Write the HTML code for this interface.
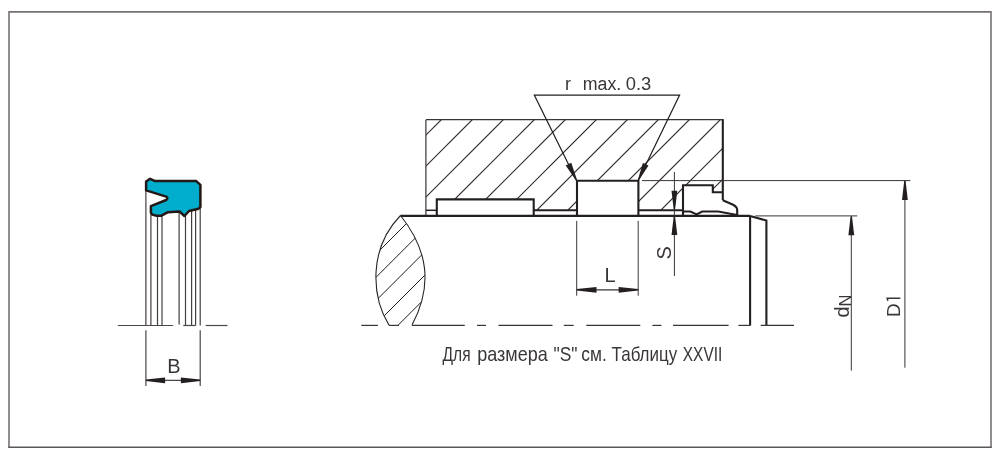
<!DOCTYPE html>
<html><head><meta charset="utf-8">
<style>
html,body{margin:0;padding:0;background:#fff;width:1000px;height:457px;overflow:hidden}
svg{display:block;will-change:transform}
text{font-family:"Liberation Sans",sans-serif;fill:#3a3536}
</style></head>
<body>
<svg width="1000" height="457" viewBox="0 0 1000 457">
<defs>
<clipPath id="hc">
<path d="M426,119.6 H722.8 V192.3 H712.8 V185.3 H683 V210.3 H638.4 V180.2 H577 V210.3 H533.7 V199.2 H436.8 V210.3 H426 Z"/>
</clipPath>
<clipPath id="lc">
<path d="M400.5,215.5 C368,249.1 371.6,296.9 389,325.1 H412 C433.1,285.4 428.1,250.1 400.5,215.5 Z"/>
</clipPath>
</defs>
<!-- frame -->
<g fill="none" stroke-width="1.6">
<path d="M9,447.3 V11.9 H991 V447.3" stroke="#777273"/>
<line x1="8.2" y1="447.3" x2="991.8" y2="447.3" stroke="#5c5757"/>
</g>

<!-- ===== left seal ===== -->
<g stroke="#433e3f" stroke-width="1.2" fill="none">
<line x1="145.9" y1="190" x2="145.9" y2="325.5"/>
<line x1="150.9" y1="212" x2="150.9" y2="325.5"/>
<line x1="157.5" y1="215" x2="157.5" y2="325.5"/>
<line x1="162" y1="215" x2="162" y2="325.5"/>
<line x1="179.1" y1="211" x2="179.1" y2="324.5"/>
<line x1="185.5" y1="215" x2="185.5" y2="325.5"/>
<line x1="191.6" y1="210" x2="191.6" y2="325.5"/>
<line x1="195.6" y1="209" x2="195.6" y2="325.5"/>
<line x1="200.2" y1="207" x2="200.2" y2="325.5"/>
</g>
<g stroke="#4a4546" stroke-width="1.2" fill="none">
<line x1="117.8" y1="325.5" x2="173.2" y2="325.5"/>
<line x1="183.3" y1="325.5" x2="195.6" y2="325.5"/>
<line x1="205.6" y1="325.5" x2="227.5" y2="325.5"/>
<line x1="145.9" y1="330.2" x2="145.9" y2="386"/>
<line x1="200.2" y1="330.2" x2="200.2" y2="386"/>
<line x1="150" y1="380.3" x2="196" y2="380.3" stroke-width="1.3"/>
</g>
<g fill="#231f20">
<path d="M145.90,381.00 L165.10,383.20 L165.10,377.40 L145.90,379.60 Z"/>
<path d="M200.20,379.60 L180.90,377.40 L180.90,383.20 L200.20,381.00 Z"/>
</g>
<path d="M146.1,181.5 L150.1,178.8 L154.6,180.9 L196,180.9 L200.4,184.9 L200.4,207 L198.6,208.7 L189,211 L184.4,216 L179.4,211.4 L168,212.2 L161.4,215.7 L156.6,215.7 L152.2,214.6 L150.9,212.5 L150.9,206.1 L166.2,200 Q168.5,198.2 166.2,196.6 L146.1,190.4 Z" fill="#00adcc" stroke="#231815" stroke-width="2.5" stroke-linejoin="round"/>
<text x="174" y="373.1" font-size="20" text-anchor="middle">B</text>

<!-- ===== main drawing ===== -->
<!-- housing hatch -->
<g clip-path="url(#hc)" stroke="#2e2a2b" stroke-width="1.15" fill="none">
<line x1="461.0" y1="100" x2="331.0" y2="230"/>
<line x1="492.0" y1="100" x2="362.0" y2="230"/>
<line x1="523.0" y1="100" x2="393.0" y2="230"/>
<line x1="554.0" y1="100" x2="424.0" y2="230"/>
<line x1="585.0" y1="100" x2="455.0" y2="230"/>
<line x1="616.0" y1="100" x2="486.0" y2="230"/>
<line x1="647.0" y1="100" x2="517.0" y2="230"/>
<line x1="678.0" y1="100" x2="548.0" y2="230"/>
<line x1="709.0" y1="100" x2="579.0" y2="230"/>
<line x1="740.0" y1="100" x2="610.0" y2="230"/>
<line x1="771.0" y1="100" x2="641.0" y2="230"/>
<line x1="802.0" y1="100" x2="672.0" y2="230"/>
<line x1="833.0" y1="100" x2="703.0" y2="230"/>
<line x1="864.0" y1="100" x2="734.0" y2="230"/>
</g>
<!-- housing outline -->
<g stroke="#3a3435" stroke-width="1.2" fill="none">
<line x1="426" y1="119.7" x2="722.8" y2="119.7"/>
<line x1="425.9" y1="119.7" x2="425.9" y2="215.7"/>
</g>
<g stroke="#231f20" stroke-width="2.1" fill="none" stroke-linejoin="miter">
<line x1="722.8" y1="119.2" x2="722.8" y2="200.2"/>
<line x1="425.9" y1="210.3" x2="436.8" y2="210.3" stroke-width="1.5"/>
<line x1="533.7" y1="210.3" x2="577" y2="210.3"/>
<line x1="638.4" y1="210.3" x2="683" y2="210.3"/>
<!-- pad -->
<path d="M436.8,215.9 V199.4 H533.7 V215.9"/>
<!-- groove -->
<path d="M577,215.9 V180.7 H638.4 V215.9"/>
<!-- wiper seal -->
<path d="M683,215.4 V185.3 H712.8 V192.3 H722.8"/>
<path d="M722.8,200.2 L733.1,204.8 Q737.2,207 737.2,210 V215.4"/>
<path d="M683,211.5 H690.4 L696.6,214.4 L702.2,211.5 H718.2 L737.2,215"/>
<!-- shaft -->
<line x1="400.5" y1="215.9" x2="750.1" y2="215.9"/>
<line x1="750.1" y1="215.9" x2="750.1" y2="325.6"/>
<path d="M750.1,215.9 L766.4,220.5 V325.6"/>
</g>
<!-- lens -->
<g clip-path="url(#lc)" stroke="#231f20" stroke-width="1" fill="none">
<line x1="430.0" y1="200" x2="290.0" y2="340"/>
<line x1="453.3" y1="200" x2="313.3" y2="340"/>
<line x1="476.6" y1="200" x2="336.6" y2="340"/>
<line x1="500.0" y1="200" x2="360.0" y2="340"/>
<line x1="523.3" y1="200" x2="383.3" y2="340"/>
</g>
<path d="M400.5,215.5 C368,249.1 371.6,296.9 389,325.1 M400.5,215.5 C428.1,250.1 433.1,285.4 412,325.1" fill="none" stroke="#2b2526" stroke-width="1.1"/>
<!-- center line -->
<g stroke="#3a3435" stroke-width="1.2" fill="none">
<line x1="361.3" y1="325.4" x2="377.9" y2="325.4"/>
<line x1="389" y1="325.4" x2="398.9" y2="325.4"/>
<line x1="412" y1="325.4" x2="464.8" y2="325.4"/>
<line x1="477" y1="325.4" x2="486" y2="325.4"/>
<line x1="498.5" y1="325.4" x2="552.5" y2="325.4"/>
<line x1="563.8" y1="325.4" x2="573.7" y2="325.4"/>
<line x1="586.3" y1="325.4" x2="640.3" y2="325.4"/>
<line x1="652.4" y1="325.4" x2="661.4" y2="325.4"/>
<line x1="673" y1="325.4" x2="728.6" y2="325.4"/>
<line x1="738.4" y1="325.4" x2="750.2" y2="325.4"/>
<line x1="760.7" y1="325.4" x2="794" y2="325.4"/>
</g>
<!-- dimension thin lines -->
<g stroke="#3a3435" stroke-width="1" fill="none">
<line x1="642" y1="180.6" x2="910.4" y2="180.6"/>
<line x1="755.3" y1="215.9" x2="857.3" y2="215.9"/>
<line x1="904.9" y1="180.5" x2="904.9" y2="367.7"/>
<line x1="851.3" y1="216" x2="851.3" y2="370.6"/>
<line x1="674.4" y1="172" x2="674.4" y2="276"/>
<line x1="576.7" y1="220.9" x2="576.7" y2="295.7"/>
<line x1="638.2" y1="220.9" x2="638.2" y2="295.7"/>
<line x1="580" y1="289.8" x2="635" y2="289.8" stroke-width="1.3"/>
<!-- r max leader -->
<path d="M576.5,180.5 L534.3,95.1 H679.6 L638.3,180.3" stroke="#231f20" stroke-width="1.2"/>
</g>
<g fill="#231f20">
<!-- L arrows -->
<path d="M576.70,290.50 L596.50,292.70 L596.50,286.90 L576.70,289.10 Z"/>
<path d="M638.20,289.10 L618.60,286.90 L618.60,292.70 L638.20,290.50 Z"/>
<!-- S arrows -->
<path d="M675.10,209.50 L677.30,190.80 L671.50,190.80 L673.70,209.50 Z"/>
<path d="M673.70,216.60 L671.50,235.00 L677.30,235.00 L675.10,216.60 Z"/>
<!-- D1 / dN arrows -->
<path d="M904.20,181.00 L902.00,200.00 L907.80,200.00 L905.60,181.00 Z"/>
<path d="M850.60,216.50 L848.40,235.20 L854.20,235.20 L852.00,216.50 Z"/>
<!-- r arrows -->
<path d="M577.04,179.93 L571.27,162.81 L565.73,165.59 L575.96,180.47 Z"/>
<path d="M638.94,180.25 L648.51,165.50 L642.89,162.90 L637.86,179.75 Z"/>
</g>
<!-- texts -->
<g font-size="18">
<text x="565" y="89.5">r</text>
<text x="582.8" y="89.5" textLength="38.5" lengthAdjust="spacingAndGlyphs">max.</text>
<text x="625.8" y="89.5" textLength="25.5" lengthAdjust="spacingAndGlyphs">0.3</text>
</g>
<text x="610" y="281.7" font-size="20" text-anchor="middle">L</text>
<text transform="translate(671.4,252.9) rotate(-90)" font-size="20" text-anchor="middle">S</text>
<text transform="translate(848.6,317.6) rotate(-90)" font-size="20">d<tspan font-size="16.5" dy="2">N</tspan></text>
<text transform="translate(900.2,317.1) rotate(-90)" font-size="18.8">D</text>
<path d="M900.3,298.2 H887.1 L887.9,300.9" fill="none" stroke="#3a3536" stroke-width="1.45"/>
<g font-size="20.2">
<text x="442.6" y="361" textLength="28" lengthAdjust="spacingAndGlyphs">Для</text>
<text x="477.2" y="361" textLength="70.5" lengthAdjust="spacingAndGlyphs">размера</text>
<text x="553.5" y="361" textLength="24" lengthAdjust="spacingAndGlyphs">"S"</text>
<text x="581.3" y="361" textLength="25.5" lengthAdjust="spacingAndGlyphs">см.</text>
<text x="611.6" y="361" textLength="65.6" lengthAdjust="spacingAndGlyphs">Таблицу</text>
<text x="682.8" y="361" textLength="39.5" lengthAdjust="spacingAndGlyphs">XXVII</text>
</g>
</svg>
</body></html>
